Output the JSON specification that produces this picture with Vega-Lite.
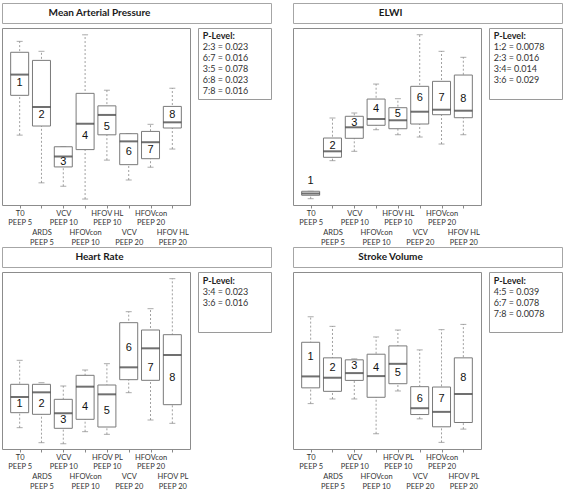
{
  "$schema": "https://vega.github.io/schema/vega-lite/v6.json",
  "padding": {"left": 1, "top": 2, "right": 0, "bottom": 0},
  "background": "white",
  "config": {"view": {"stroke": "#8c8c8c"}, "font": "Lato",
    "axisX": {"title": null, "domain": false, "grid": false, "tickSize": 3, "tickColor": "#888", "labelAngle": 0, "labelFont": "Lato", "labelFontSize": 7.5, "labelLineHeight": 9.7, "labelBaseline": "top", "labelColor": "#333", "labelOverlap": false, "labelBound": false}},
  "datasets": {
    "map": [
      {"g": 1, "min": 81.8, "q1": 95.8, "med": 103.1, "q3": 110.95, "max": 114.8, "ly": 100.1},
      {"g": 2, "min": 65.0, "q1": 85.0, "med": 91.7, "q3": 108.1, "max": 111.3, "ly": 88.9},
      {"g": 3, "min": 63.8, "q1": 70.6, "med": 74.3, "q3": 77.7, "max": 77.7, "ly": 72.3},
      {"g": 4, "min": 59.3, "q1": 76.7, "med": 85.8, "q3": 96.5, "max": 117.1, "ly": 81.5},
      {"g": 5, "min": 73.0, "q1": 81.9, "med": 88.9, "q3": 92.1, "max": 97.6, "ly": 84.6},
      {"g": 6, "min": 66.0, "q1": 71.4, "med": 79.6, "q3": 82.3, "max": 82.3, "ly": 75.8},
      {"g": 7, "min": 70.5, "q1": 73.5, "med": 79.3, "q3": 83.1, "max": 85.6, "ly": 76.5},
      {"g": 8, "min": 76.9, "q1": 84.3, "med": 86.3, "q3": 91.9, "max": 98.3, "ly": 88.9}
    ],
    "elwi": [
      {"g": 1, "min": 4.06, "q1": 4.54, "med": 4.79, "q3": 5.1, "max": 5.1, "ly": 6.5},
      {"g": 2, "min": 9.38, "q1": 9.85, "med": 10.69, "q3": 12.55, "max": 15.35, "ly": 11.4},
      {"g": 3, "min": 10.69, "q1": 12.51, "med": 14.05, "q3": 15.59, "max": 16.05, "ly": 14.65},
      {"g": 4, "min": 13.71, "q1": 14.33, "med": 15.21, "q3": 18.0, "max": 20.1, "ly": 16.6},
      {"g": 5, "min": 13.01, "q1": 13.85, "med": 15.03, "q3": 16.79, "max": 18.05, "ly": 15.87},
      {"g": 6, "min": 12.69, "q1": 14.51, "med": 16.23, "q3": 19.78, "max": 27.0, "ly": 18.15},
      {"g": 7, "min": 11.71, "q1": 15.81, "med": 16.51, "q3": 20.48, "max": 24.68, "ly": 18.15},
      {"g": 8, "min": 13.01, "q1": 15.39, "med": 16.37, "q3": 21.36, "max": 23.84, "ly": 18.05}
    ],
    "hr": [
      {"g": 1, "min": 63.33, "q1": 69.33, "med": 75.6, "q3": 80.67, "max": 90.27, "ly": 72.67},
      {"g": 2, "min": 57.33, "q1": 68.67, "med": 77.47, "q3": 80.67, "max": 81.33, "ly": 72.67},
      {"g": 3, "min": 56.93, "q1": 63.07, "med": 69.07, "q3": 74.67, "max": 80.0, "ly": 66.27},
      {"g": 4, "min": 61.73, "q1": 66.67, "med": 79.73, "q3": 84.27, "max": 86.4, "ly": 71.73},
      {"g": 5, "min": 60.67, "q1": 63.6, "med": 76.67, "q3": 80.4, "max": 88.93, "ly": 70.0},
      {"g": 6, "min": 77.33, "q1": 82.53, "med": 87.47, "q3": 105.33, "max": 109.73, "ly": 95.07},
      {"g": 7, "min": 66.4, "q1": 82.27, "med": 95.07, "q3": 102.4, "max": 110.93, "ly": 87.33},
      {"g": 8, "min": 65.07, "q1": 72.53, "med": 92.4, "q3": 100.53, "max": 122.93, "ly": 83.07}
    ],
    "sv": [
      {"g": 1, "min": 25.58, "q1": 30.0, "med": 33.21, "q3": 42.79, "max": 49.95, "ly": 38.6},
      {"g": 2, "min": 26.88, "q1": 29.02, "med": 32.84, "q3": 38.42, "max": 47.26, "ly": 35.53},
      {"g": 3, "min": 26.88, "q1": 32.09, "med": 34.14, "q3": 37.86, "max": 38.14, "ly": 36.0},
      {"g": 4, "min": 17.12, "q1": 27.35, "med": 33.3, "q3": 39.44, "max": 44.28, "ly": 35.53},
      {"g": 5, "min": 29.12, "q1": 31.16, "med": 36.74, "q3": 41.77, "max": 46.23, "ly": 34.14},
      {"g": 6, "min": 21.3, "q1": 22.51, "med": 24.28, "q3": 30.33, "max": 40.65, "ly": 26.98},
      {"g": 7, "min": 14.7, "q1": 19.07, "med": 23.26, "q3": 30.23, "max": 46.33, "ly": 26.98},
      {"g": 8, "min": 18.42, "q1": 20.28, "med": 28.28, "q3": 38.42, "max": 47.81, "ly": 32.84}
    ]
  },
  "vconcat": [
    {
      "hconcat": [
        {
          "vconcat": [
            {"width": 269, "height": 20, "view": {"stroke": "#a6a6a6"}, "data": {"values": [{"t": "Mean Arterial Pressure"}]},
             "mark": {"type": "text", "font": "Lato", "fontWeight": "bold", "fontSize": 10, "dx": -37, "color": "#1a1a1a"},
             "encoding": {"text": {"field": "t"}}},
            {
              "hconcat": [
                {
                  "width": 188, "height": 177, "data": {"name": "map"}, "view": {"stroke": "#8c8c8c"},
                  "resolve": {"axis": {"x": "independent"}},
                  "layer": [
                    {"mark": {"type": "rule", "color": "#a0a0a0", "strokeDash": [2, 2], "strokeWidth": 1},
                     "encoding": {
                       "x": {"field": "g", "type": "ordinal", "scale": {"type": "point", "padding": 0.81},
                         "axis": {"orient": "bottom", "values": [1, 3, 5, 7], "labelPadding": 1, "labelExpr": "[['T0','PEEP 5'],['ARDS','PEEP 5'],['VCV','PEEP 10'],['HFOVcon','PEEP 10'],['HFOV HL','PEEP 10'],['VCV','PEEP 20'],['HFOVcon','PEEP 20'],['HFOV HL','PEEP 20']][datum.value-1]"}},
                       "y": {"field": "min", "type": "quantitative", "scale": {"domain": [57.2, 119.5], "nice": false, "zero": false},
                       "axis": {"values": [60, 70, 80, 90, 100, 110], "labels": false, "domain": false, "grid": false, "tickSize": 3, "tickColor": "#888", "title": null}},
                       "y2": {"field": "max"}}},
                    {"mark": {"type": "tick", "size": 6, "thickness": 1, "color": "#888"},
                     "encoding": {"x": {"field": "g", "type": "ordinal", "scale": {"type": "point", "padding": 0.81}, "axis": null},
                       "y": {"field": "max", "type": "quantitative", "scale": {"domain": [57.2, 119.5], "nice": false, "zero": false}, "axis": null}}},
                    {"mark": {"type": "tick", "size": 6, "thickness": 1, "color": "#888"},
                     "encoding": {"x": {"field": "g", "type": "ordinal", "scale": {"type": "point", "padding": 0.81}, "axis": null},
                       "y": {"field": "min", "type": "quantitative", "scale": {"domain": [57.2, 119.5], "nice": false, "zero": false}, "axis": null}}},
                    {"mark": {"type": "bar", "size": 18, "fill": "white", "stroke": "#7a7a7a", "strokeWidth": 1},
                     "encoding": {"x": {"field": "g", "type": "ordinal", "scale": {"type": "point", "padding": 0.81}, "axis": null},
                       "y": {"field": "q1", "type": "quantitative", "scale": {"domain": [57.2, 119.5], "nice": false, "zero": false}, "axis": null}, "y2": {"field": "q3"}}},
                    {"mark": {"type": "tick", "size": 18, "thickness": 2, "color": "#333"},
                     "encoding": {"x": {"field": "g", "type": "ordinal", "scale": {"type": "point", "padding": 0.81}, "axis": null},
                       "y": {"field": "med", "type": "quantitative", "scale": {"domain": [57.2, 119.5], "nice": false, "zero": false}, "axis": null}}},
                    {"mark": {"type": "text", "font": "Liberation Sans", "fontSize": 11, "color": "#111"},
                     "encoding": {
                       "x": {"field": "g", "type": "ordinal", "scale": {"type": "point", "padding": 0.81},
                         "axis": {"orient": "bottom", "values": [2, 4, 6, 8], "labelPadding": 20.4, "labelExpr": "[['T0','PEEP 5'],['ARDS','PEEP 5'],['VCV','PEEP 10'],['HFOVcon','PEEP 10'],['HFOV HL','PEEP 10'],['VCV','PEEP 20'],['HFOVcon','PEEP 20'],['HFOV HL','PEEP 20']][datum.value-1]"}},
                       "y": {"field": "ly", "type": "quantitative", "scale": {"domain": [57.2, 119.5], "nice": false, "zero": false}, "axis": null}, "text": {"field": "g"}}}
                  ]
                },
                {
                  "width": 73, "height": 71, "view": {"stroke": "#9a9a9a"},
                  "data": {"values": [{"i": 0, "t": "P-Level:"}, {"i": 1, "t": "2:3 = 0.023"}, {"i": 2, "t": "6:7 = 0.016"}, {"i": 3, "t": "3:5 = 0.078"}, {"i": 4, "t": "6:8 = 0.023"}, {"i": 5, "t": "7:8 = 0.016"}]},
                  "encoding": {
                    "x": {"datum": 0, "type": "quantitative", "scale": {"domain": [-0.07, 1], "nice": false, "zero": false}, "axis": null},
                    "y": {"field": "i", "type": "quantitative", "scale": {"domain": [-0.7, 5.75], "reverse": true, "nice": false, "zero": false}, "axis": null},
                    "text": {"field": "t"}
                  },
                  "layer": [
                    {"transform": [{"filter": "datum.i == 0"}], "mark": {"type": "text", "align": "left", "font": "Lato", "fontSize": 9, "fontWeight": "bold", "color": "#222"}},
                    {"transform": [{"filter": "datum.i > 0"}], "mark": {"type": "text", "align": "left", "font": "Lato", "fontSize": 9, "color": "#333"}}
                  ]
                }
              ],
              "spacing": 8, "bounds": "flush"
            }
          ],
          "spacing": 3
        },
        {
          "vconcat": [
            {"width": 269, "height": 20, "view": {"stroke": "#a6a6a6"}, "data": {"values": [{"t": "ELWI"}]},
             "mark": {"type": "text", "font": "Lato", "fontWeight": "bold", "fontSize": 10, "dx": -37, "color": "#1a1a1a"},
             "encoding": {"text": {"field": "t"}}},
            {
              "hconcat": [
                {
                  "width": 188, "height": 177, "data": {"name": "elwi"}, "view": {"stroke": "#8c8c8c"},
                  "resolve": {"axis": {"x": "independent"}},
                  "layer": [
                    {"mark": {"type": "rule", "color": "#a0a0a0", "strokeDash": [2, 2], "strokeWidth": 1},
                     "encoding": {
                       "x": {"field": "g", "type": "ordinal", "scale": {"type": "point", "padding": 0.81},
                         "axis": {"orient": "bottom", "values": [1, 3, 5, 7], "labelPadding": 1, "labelExpr": "[['T0','PEEP 5'],['ARDS','PEEP 5'],['VCV','PEEP 10'],['HFOVcon','PEEP 10'],['HFOV HL','PEEP 10'],['VCV','PEEP 20'],['HFOVcon','PEEP 20'],['HFOV HL','PEEP 20']][datum.value-1]"}},
                       "y": {"field": "min", "type": "quantitative", "scale": {"domain": [3.18, 27.94], "nice": false, "zero": false},
                       "axis": {"values": [5, 10, 15, 20, 25], "labels": false, "domain": false, "grid": false, "tickSize": 3, "tickColor": "#888", "title": null}},
                       "y2": {"field": "max"}}},
                    {"mark": {"type": "tick", "size": 6, "thickness": 1, "color": "#888"},
                     "encoding": {"x": {"field": "g", "type": "ordinal", "scale": {"type": "point", "padding": 0.81}, "axis": null},
                       "y": {"field": "max", "type": "quantitative", "scale": {"domain": [3.18, 27.94], "nice": false, "zero": false}, "axis": null}}},
                    {"mark": {"type": "tick", "size": 6, "thickness": 1, "color": "#888"},
                     "encoding": {"x": {"field": "g", "type": "ordinal", "scale": {"type": "point", "padding": 0.81}, "axis": null},
                       "y": {"field": "min", "type": "quantitative", "scale": {"domain": [3.18, 27.94], "nice": false, "zero": false}, "axis": null}}},
                    {"mark": {"type": "bar", "size": 18, "fill": "white", "stroke": "#7a7a7a", "strokeWidth": 1},
                     "encoding": {"x": {"field": "g", "type": "ordinal", "scale": {"type": "point", "padding": 0.81}, "axis": null},
                       "y": {"field": "q1", "type": "quantitative", "scale": {"domain": [3.18, 27.94], "nice": false, "zero": false}, "axis": null}, "y2": {"field": "q3"}}},
                    {"mark": {"type": "tick", "size": 18, "thickness": 2, "color": "#333"},
                     "encoding": {"x": {"field": "g", "type": "ordinal", "scale": {"type": "point", "padding": 0.81}, "axis": null},
                       "y": {"field": "med", "type": "quantitative", "scale": {"domain": [3.18, 27.94], "nice": false, "zero": false}, "axis": null}}},
                    {"mark": {"type": "text", "font": "Liberation Sans", "fontSize": 11, "color": "#111"},
                     "encoding": {
                       "x": {"field": "g", "type": "ordinal", "scale": {"type": "point", "padding": 0.81},
                         "axis": {"orient": "bottom", "values": [2, 4, 6, 8], "labelPadding": 20.4, "labelExpr": "[['T0','PEEP 5'],['ARDS','PEEP 5'],['VCV','PEEP 10'],['HFOVcon','PEEP 10'],['HFOV HL','PEEP 10'],['VCV','PEEP 20'],['HFOVcon','PEEP 20'],['HFOV HL','PEEP 20']][datum.value-1]"}},
                       "y": {"field": "ly", "type": "quantitative", "scale": {"domain": [3.18, 27.94], "nice": false, "zero": false}, "axis": null}, "text": {"field": "g"}}}
                  ]
                },
                {
                  "width": 73, "height": 71, "view": {"stroke": "#9a9a9a"},
                  "data": {"values": [{"i": 0, "t": "P-Level:"}, {"i": 1, "t": "1:2 = 0.0078"}, {"i": 2, "t": "2:3 = 0.016"}, {"i": 3, "t": "3:4= 0.014"}, {"i": 4, "t": "3:6 = 0.029"}]},
                  "encoding": {
                    "x": {"datum": 0, "type": "quantitative", "scale": {"domain": [-0.07, 1], "nice": false, "zero": false}, "axis": null},
                    "y": {"field": "i", "type": "quantitative", "scale": {"domain": [-0.7, 5.75], "reverse": true, "nice": false, "zero": false}, "axis": null},
                    "text": {"field": "t"}
                  },
                  "layer": [
                    {"transform": [{"filter": "datum.i == 0"}], "mark": {"type": "text", "align": "left", "font": "Lato", "fontSize": 9, "fontWeight": "bold", "color": "#222"}},
                    {"transform": [{"filter": "datum.i > 0"}], "mark": {"type": "text", "align": "left", "font": "Lato", "fontSize": 9, "color": "#333"}}
                  ]
                }
              ],
              "spacing": 8, "bounds": "flush"
            }
          ],
          "spacing": 3
        }
      ],
      "spacing": 20
    },
    {
      "hconcat": [
        {
          "vconcat": [
            {"width": 269, "height": 20, "view": {"stroke": "#a6a6a6"}, "data": {"values": [{"t": "Heart Rate"}]},
             "mark": {"type": "text", "font": "Lato", "fontWeight": "bold", "fontSize": 10, "dx": -37, "color": "#1a1a1a"},
             "encoding": {"text": {"field": "t"}}},
            {
              "hconcat": [
                {
                  "width": 188, "height": 177, "data": {"name": "hr"}, "view": {"stroke": "#8c8c8c"},
                  "resolve": {"axis": {"x": "independent"}},
                  "layer": [
                    {"mark": {"type": "rule", "color": "#a0a0a0", "strokeDash": [2, 2], "strokeWidth": 1},
                     "encoding": {
                       "x": {"field": "g", "type": "ordinal", "scale": {"type": "point", "padding": 0.81},
                         "axis": {"orient": "bottom", "values": [1, 3, 5, 7], "labelPadding": 1, "labelExpr": "[['T0','PEEP 5'],['ARDS','PEEP 5'],['VCV','PEEP 10'],['HFOVcon','PEEP 10'],['HFOV PL','PEEP 10'],['VCV','PEEP 20'],['HFOVcon','PEEP 20'],['HFOV PL','PEEP 20']][datum.value-1]"}},
                       "y": {"field": "min", "type": "quantitative", "scale": {"domain": [54.8, 125.6], "nice": false, "zero": false},
                       "axis": {"values": [60, 70, 80, 90, 100, 110, 120], "labels": false, "domain": false, "grid": false, "tickSize": 3, "tickColor": "#888", "title": null}},
                       "y2": {"field": "max"}}},
                    {"mark": {"type": "tick", "size": 6, "thickness": 1, "color": "#888"},
                     "encoding": {"x": {"field": "g", "type": "ordinal", "scale": {"type": "point", "padding": 0.81}, "axis": null},
                       "y": {"field": "max", "type": "quantitative", "scale": {"domain": [54.8, 125.6], "nice": false, "zero": false}, "axis": null}}},
                    {"mark": {"type": "tick", "size": 6, "thickness": 1, "color": "#888"},
                     "encoding": {"x": {"field": "g", "type": "ordinal", "scale": {"type": "point", "padding": 0.81}, "axis": null},
                       "y": {"field": "min", "type": "quantitative", "scale": {"domain": [54.8, 125.6], "nice": false, "zero": false}, "axis": null}}},
                    {"mark": {"type": "bar", "size": 18, "fill": "white", "stroke": "#7a7a7a", "strokeWidth": 1},
                     "encoding": {"x": {"field": "g", "type": "ordinal", "scale": {"type": "point", "padding": 0.81}, "axis": null},
                       "y": {"field": "q1", "type": "quantitative", "scale": {"domain": [54.8, 125.6], "nice": false, "zero": false}, "axis": null}, "y2": {"field": "q3"}}},
                    {"mark": {"type": "tick", "size": 18, "thickness": 2, "color": "#333"},
                     "encoding": {"x": {"field": "g", "type": "ordinal", "scale": {"type": "point", "padding": 0.81}, "axis": null},
                       "y": {"field": "med", "type": "quantitative", "scale": {"domain": [54.8, 125.6], "nice": false, "zero": false}, "axis": null}}},
                    {"mark": {"type": "text", "font": "Liberation Sans", "fontSize": 11, "color": "#111"},
                     "encoding": {
                       "x": {"field": "g", "type": "ordinal", "scale": {"type": "point", "padding": 0.81},
                         "axis": {"orient": "bottom", "values": [2, 4, 6, 8], "labelPadding": 20.4, "labelExpr": "[['T0','PEEP 5'],['ARDS','PEEP 5'],['VCV','PEEP 10'],['HFOVcon','PEEP 10'],['HFOV PL','PEEP 10'],['VCV','PEEP 20'],['HFOVcon','PEEP 20'],['HFOV PL','PEEP 20']][datum.value-1]"}},
                       "y": {"field": "ly", "type": "quantitative", "scale": {"domain": [54.8, 125.6], "nice": false, "zero": false}, "axis": null}, "text": {"field": "g"}}}
                  ]
                },
                {
                  "width": 73, "height": 60, "view": {"stroke": "#9a9a9a"},
                  "data": {"values": [{"i": 0, "t": "P-Level:"}, {"i": 1, "t": "3:4 = 0.023"}, {"i": 2, "t": "3:6 = 0.016"}]},
                  "encoding": {
                    "x": {"datum": 0, "type": "quantitative", "scale": {"domain": [-0.07, 1], "nice": false, "zero": false}, "axis": null},
                    "y": {"field": "i", "type": "quantitative", "scale": {"domain": [-0.8, 4.65], "reverse": true, "nice": false, "zero": false}, "axis": null},
                    "text": {"field": "t"}
                  },
                  "layer": [
                    {"transform": [{"filter": "datum.i == 0"}], "mark": {"type": "text", "align": "left", "font": "Lato", "fontSize": 9, "fontWeight": "bold", "color": "#222"}},
                    {"transform": [{"filter": "datum.i > 0"}], "mark": {"type": "text", "align": "left", "font": "Lato", "fontSize": 9, "color": "#333"}}
                  ]
                }
              ],
              "spacing": 8, "bounds": "flush"
            }
          ],
          "spacing": 3
        },
        {
          "vconcat": [
            {"width": 269, "height": 20, "view": {"stroke": "#a6a6a6"}, "data": {"values": [{"t": "Stroke Volume"}]},
             "mark": {"type": "text", "font": "Lato", "fontWeight": "bold", "fontSize": 10, "dx": -37, "color": "#1a1a1a"},
             "encoding": {"text": {"field": "t"}}},
            {
              "hconcat": [
                {
                  "width": 188, "height": 177, "data": {"name": "sv"}, "view": {"stroke": "#8c8c8c"},
                  "resolve": {"axis": {"x": "independent"}},
                  "layer": [
                    {"mark": {"type": "rule", "color": "#a0a0a0", "strokeDash": [2, 2], "strokeWidth": 1},
                     "encoding": {
                       "x": {"field": "g", "type": "ordinal", "scale": {"type": "point", "padding": 0.81},
                         "axis": {"orient": "bottom", "values": [1, 3, 5, 7], "labelPadding": 1, "labelExpr": "[['T0','PEEP 5'],['ARDS','PEEP 5'],['VCV','PEEP 10'],['HFOVcon','PEEP 10'],['HFOV PL','PEEP 10'],['VCV','PEEP 20'],['HFOVcon','PEEP 20'],['HFOV PL','PEEP 20']][datum.value-1]"}},
                       "y": {"field": "min", "type": "quantitative", "scale": {"domain": [12.84, 62.51], "nice": false, "zero": false},
                       "axis": {"values": [20, 30, 40, 50, 60], "labels": false, "domain": false, "grid": false, "tickSize": 3, "tickColor": "#888", "title": null}},
                       "y2": {"field": "max"}}},
                    {"mark": {"type": "tick", "size": 6, "thickness": 1, "color": "#888"},
                     "encoding": {"x": {"field": "g", "type": "ordinal", "scale": {"type": "point", "padding": 0.81}, "axis": null},
                       "y": {"field": "max", "type": "quantitative", "scale": {"domain": [12.84, 62.51], "nice": false, "zero": false}, "axis": null}}},
                    {"mark": {"type": "tick", "size": 6, "thickness": 1, "color": "#888"},
                     "encoding": {"x": {"field": "g", "type": "ordinal", "scale": {"type": "point", "padding": 0.81}, "axis": null},
                       "y": {"field": "min", "type": "quantitative", "scale": {"domain": [12.84, 62.51], "nice": false, "zero": false}, "axis": null}}},
                    {"mark": {"type": "bar", "size": 18, "fill": "white", "stroke": "#7a7a7a", "strokeWidth": 1},
                     "encoding": {"x": {"field": "g", "type": "ordinal", "scale": {"type": "point", "padding": 0.81}, "axis": null},
                       "y": {"field": "q1", "type": "quantitative", "scale": {"domain": [12.84, 62.51], "nice": false, "zero": false}, "axis": null}, "y2": {"field": "q3"}}},
                    {"mark": {"type": "tick", "size": 18, "thickness": 2, "color": "#333"},
                     "encoding": {"x": {"field": "g", "type": "ordinal", "scale": {"type": "point", "padding": 0.81}, "axis": null},
                       "y": {"field": "med", "type": "quantitative", "scale": {"domain": [12.84, 62.51], "nice": false, "zero": false}, "axis": null}}},
                    {"mark": {"type": "text", "font": "Liberation Sans", "fontSize": 11, "color": "#111"},
                     "encoding": {
                       "x": {"field": "g", "type": "ordinal", "scale": {"type": "point", "padding": 0.81},
                         "axis": {"orient": "bottom", "values": [2, 4, 6, 8], "labelPadding": 20.4, "labelExpr": "[['T0','PEEP 5'],['ARDS','PEEP 5'],['VCV','PEEP 10'],['HFOVcon','PEEP 10'],['HFOV PL','PEEP 10'],['VCV','PEEP 20'],['HFOVcon','PEEP 20'],['HFOV PL','PEEP 20']][datum.value-1]"}},
                       "y": {"field": "ly", "type": "quantitative", "scale": {"domain": [12.84, 62.51], "nice": false, "zero": false}, "axis": null}, "text": {"field": "g"}}}
                  ]
                },
                {
                  "width": 73, "height": 60, "view": {"stroke": "#9a9a9a"},
                  "data": {"values": [{"i": 0, "t": "P-Level:"}, {"i": 1, "t": "4:5 = 0.039"}, {"i": 2, "t": "6:7 = 0.078"}, {"i": 3, "t": "7:8 = 0.0078"}]},
                  "encoding": {
                    "x": {"datum": 0, "type": "quantitative", "scale": {"domain": [-0.07, 1], "nice": false, "zero": false}, "axis": null},
                    "y": {"field": "i", "type": "quantitative", "scale": {"domain": [-0.8, 4.65], "reverse": true, "nice": false, "zero": false}, "axis": null},
                    "text": {"field": "t"}
                  },
                  "layer": [
                    {"transform": [{"filter": "datum.i == 0"}], "mark": {"type": "text", "align": "left", "font": "Lato", "fontSize": 9, "fontWeight": "bold", "color": "#222"}},
                    {"transform": [{"filter": "datum.i > 0"}], "mark": {"type": "text", "align": "left", "font": "Lato", "fontSize": 9, "color": "#333"}}
                  ]
                }
              ],
              "spacing": 8, "bounds": "flush"
            }
          ],
          "spacing": 3
        }
      ],
      "spacing": 20
    }
  ],
  "spacing": -1
}
